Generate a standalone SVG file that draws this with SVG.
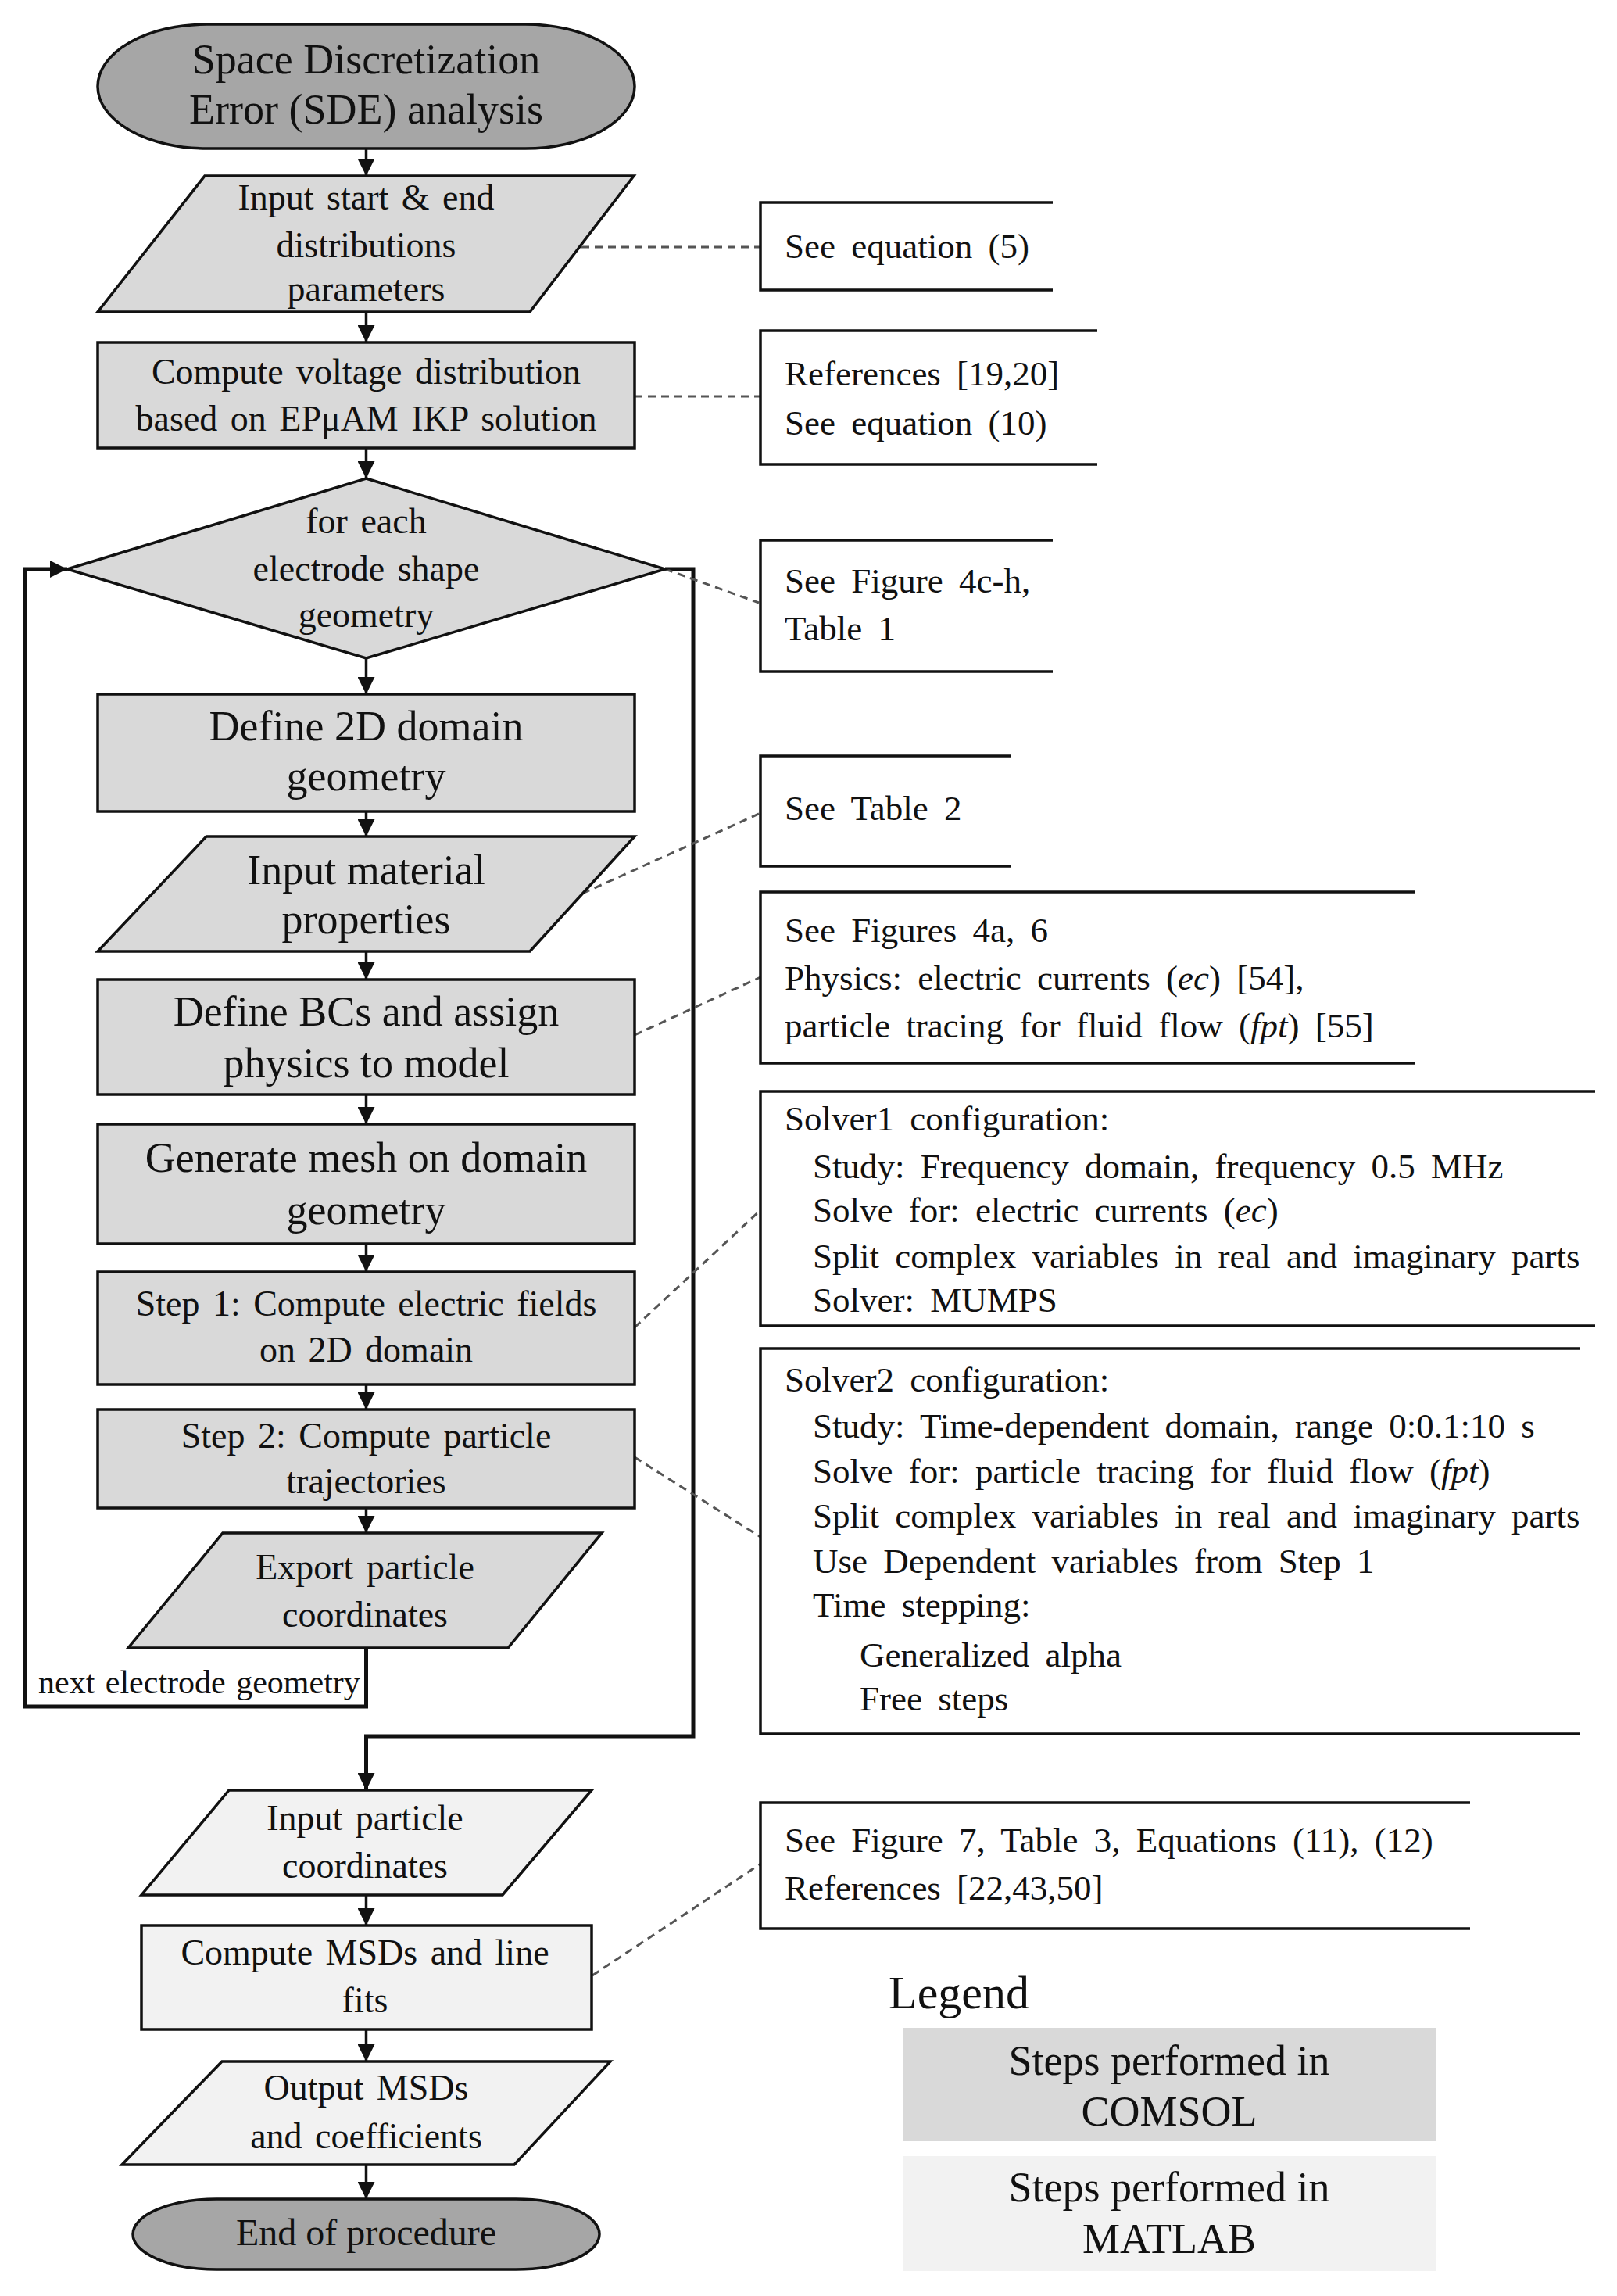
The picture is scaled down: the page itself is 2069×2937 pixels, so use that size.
<svg xmlns="http://www.w3.org/2000/svg" width="2069" height="2937" viewBox="0 0 2069 2937">
<defs>
<style>
text{font-family:"Liberation Serif","Times New Roman",serif;fill:#111}
.c{text-anchor:middle}
.f46{font-size:46px;word-spacing:5px}
.f54{font-size:54px}
.a{font-size:45px;word-spacing:9px}
.n{stroke:#111;stroke-width:3.5}
.dk{fill:#a6a6a6}
.md{fill:#d9d9d9}
.lt{fill:#f2f2f2}
.ar{fill:none;stroke:#111;stroke-width:3.5}
.lp{fill:none;stroke:#111;stroke-width:5}
.ds{fill:none;stroke:#555;stroke-width:3;stroke-dasharray:10 7}
.an{fill:#fff;stroke:#111;stroke-width:3.5}
</style>
<marker id="ah" markerUnits="userSpaceOnUse" markerWidth="22" markerHeight="22" refX="22" refY="11" orient="auto">
<path d="M0,0 L22,11 L0,22 z" fill="#111"/>
</marker>
<clipPath id="clipA7"><rect x="973" y="1725" width="1049" height="493"/></clipPath>
</defs>
<rect width="2069" height="2937" fill="#fff"/>

<g id="connectors">
<path class="ar" marker-end="url(#ah)" d="M468.5,190 V225"/>
<path class="ar" marker-end="url(#ah)" d="M468.5,399 V438"/>
<path class="ar" marker-end="url(#ah)" d="M468.5,573 V612"/>
<path class="ar" marker-end="url(#ah)" d="M468.5,842 V888"/>
<path class="ar" marker-end="url(#ah)" d="M468.5,1038 V1070"/>
<path class="ar" marker-end="url(#ah)" d="M468.5,1217 V1253"/>
<path class="ar" marker-end="url(#ah)" d="M468.5,1400 V1438"/>
<path class="ar" marker-end="url(#ah)" d="M468.5,1591 V1627"/>
<path class="ar" marker-end="url(#ah)" d="M468.5,1771 V1803"/>
<path class="ar" marker-end="url(#ah)" d="M468.5,1929 V1961"/>
<path class="lp" marker-end="url(#ah)" d="M468.5,2108 V2183 H32 V728 H86"/>
<path class="lp" marker-end="url(#ah)" d="M851,728 H887 V2221 H468.5 V2290"/>
<path class="ar" marker-end="url(#ah)" d="M468.5,2424 V2463"/>
<path class="ar" marker-end="url(#ah)" d="M468.5,2596 V2637"/>
<path class="ar" marker-end="url(#ah)" d="M468.5,2769 V2813"/>
<path class="ds" d="M744,316 H973"/>
<path class="ds" d="M812,507 H973"/>
<path class="ds" d="M851,728 L971,771"/>
<path class="ds" d="M745,1143 L973,1040"/>
<path class="ds" d="M812,1324 L973,1250"/>
<path class="ds" d="M812,1698 L973,1548"/>
<path class="ds" d="M812,1864 L973,1966"/>
<path class="ds" d="M758,2527 L975,2383"/>
<text x="49" y="2166" style="font-size:42px;word-spacing:3px">next electrode geometry</text>
</g>

<g id="start">
<rect class="n dk" x="125" y="31" width="687" height="159" rx="140" ry="79.5"/>
<text class="c f54" x="468.5" y="94">Space Discretization</text>
<text class="c f54" x="468.5" y="158">Error (SDE) analysis</text>
</g>

<g id="input-dist">
<polygon class="n md" points="262,225 811,225 678,399 125,399"/>
<text class="c f46" x="468.5" y="268">Input start &amp; end</text>
<text class="c f46" x="468.5" y="329">distributions</text>
<text class="c f46" x="468.5" y="385">parameters</text>
</g>

<g id="compute-voltage">
<rect class="n md" x="125" y="438" width="687" height="135"/>
<text class="c f46" x="468.5" y="491">Compute voltage distribution</text>
<text class="c f46" x="468.5" y="551">based on EPμAM IKP solution</text>
</g>

<g id="for-each">
<polygon class="n md" points="468.5,612 851,728 468.5,842 86,728"/>
<text class="c f46" x="468.5" y="682">for each</text>
<text class="c f46" x="468.5" y="743">electrode shape</text>
<text class="c f46" x="468.5" y="802">geometry</text>
</g>

<g id="define-2d">
<rect class="n md" x="125" y="888" width="687" height="150"/>
<text class="c f54" x="468.5" y="947">Define 2D domain</text>
<text class="c f54" x="468.5" y="1011">geometry</text>
</g>

<g id="input-material">
<polygon class="n md" points="264,1070 812,1070 678,1217 125,1217"/>
<text class="c f54" x="468.5" y="1131">Input material</text>
<text class="c f54" x="468.5" y="1194">properties</text>
</g>

<g id="define-bcs">
<rect class="n md" x="125" y="1253" width="687" height="147"/>
<text class="c f54" x="468.5" y="1312">Define BCs and assign</text>
<text class="c f54" x="468.5" y="1378">physics to model</text>
</g>

<g id="generate-mesh">
<rect class="n md" x="125" y="1438" width="687" height="153"/>
<text class="c f54" x="468.5" y="1499">Generate mesh on domain</text>
<text class="c f54" x="468.5" y="1566">geometry</text>
</g>

<g id="step1">
<rect class="n md" x="125" y="1627" width="687" height="144"/>
<text class="c f46" x="468.5" y="1683">Step 1: Compute electric fields</text>
<text class="c f46" x="468.5" y="1742">on 2D domain</text>
</g>

<g id="step2">
<rect class="n md" x="125" y="1803" width="687" height="126"/>
<text class="c f46" x="468.5" y="1852">Step 2: Compute particle</text>
<text class="c f46" x="468.5" y="1910">trajectories</text>
</g>

<g id="export">
<polygon class="n md" points="285,1961 770,1961 650,2108 164,2108"/>
<text class="c f46" x="467" y="2020">Export particle</text>
<text class="c f46" x="467" y="2081">coordinates</text>
</g>

<g id="input-particle">
<polygon class="n lt" points="293,2290 757,2290 643,2424 181,2424"/>
<text class="c f46" x="467" y="2341">Input particle</text>
<text class="c f46" x="467" y="2402">coordinates</text>
</g>

<g id="compute-msd">
<rect class="n lt" x="181" y="2463" width="576" height="133"/>
<text class="c f46" x="467" y="2513">Compute MSDs and line</text>
<text class="c f46" x="467" y="2574">fits</text>
</g>

<g id="output-msd">
<polygon class="n lt" points="284,2637 781,2637 658,2769 156,2769"/>
<text class="c f46" x="468.5" y="2686">Output MSDs</text>
<text class="c f46" x="468.5" y="2748">and coefficients</text>
</g>

<g id="end">
<rect class="n dk" x="170" y="2813" width="597" height="90" rx="107" ry="45"/>
<text class="c" x="468.5" y="2872" style="font-size:48px">End of procedure</text>
</g>

<g id="note-eq5">
<path class="an" d="M1347,259 H973 V371 H1347"/>
<text class="a" x="1004" y="330">See equation (5)</text>
</g>

<g id="note-refs">
<path class="an" d="M1404,423 H973 V594 H1404"/>
<text class="a" x="1004" y="493">References [19,20]</text>
<text class="a" x="1004" y="556">See equation (10)</text>
</g>

<g id="note-fig4">
<path class="an" d="M1347,691 H973 V859 H1347"/>
<text class="a" x="1004" y="758">See Figure 4c-h,</text>
<text class="a" x="1004" y="819">Table 1</text>
</g>

<g id="note-table2">
<path class="an" d="M1293,967 H973 V1108 H1293"/>
<text class="a" x="1004" y="1049">See Table 2</text>
</g>

<g id="note-physics">
<path class="an" d="M1811,1141 H973 V1360 H1811"/>
<text class="a" x="1004" y="1205">See Figures 4a, 6</text>
<text class="a" x="1004" y="1266">Physics: electric currents (<tspan font-style="italic">ec</tspan>) [54],</text>
<text class="a" x="1004" y="1327">particle tracing for fluid flow (<tspan font-style="italic">fpt</tspan>) [55]</text>
</g>

<g id="note-solver1">
<path class="an" d="M2041,1396 H973 V1696 H2041"/>
<text class="a" x="1004" y="1446">Solver1 configuration:</text>
<text class="a" x="1040" y="1507">Study: Frequency domain, frequency 0.5 MHz</text>
<text class="a" x="1040" y="1563">Solve for: electric currents (<tspan font-style="italic">ec</tspan>)</text>
<text class="a" x="1040" y="1622">Split complex variables in real and imaginary parts</text>
<text class="a" x="1040" y="1678">Solver: MUMPS</text>
</g>

<g id="note-solver2">
<path class="an" d="M2022,1725 H973 V2218 H2022"/>
<g clip-path="url(#clipA7)">
<text class="a" x="1004" y="1780">Solver2 configuration:</text>
<text class="a" x="1040" y="1839">Study: Time-dependent domain, range 0:0.1:10 s</text>
<text class="a" x="1040" y="1897">Solve for: particle tracing for fluid flow (<tspan font-style="italic">fpt</tspan>)</text>
<text class="a" x="1040" y="1954">Split complex variables in real and imaginary parts</text>
<text class="a" x="1040" y="2012">Use Dependent variables from Step 1</text>
<text class="a" x="1040" y="2068">Time stepping:</text>
<text class="a" x="1100" y="2132">Generalized alpha</text>
<text class="a" x="1100" y="2188">Free steps</text>
</g>
</g>

<g id="note-msd">
<path class="an" d="M1881,2306 H973 V2467 H1881"/>
<text class="a" x="1004" y="2369">See Figure 7, Table 3, Equations (11), (12)</text>
<text class="a" x="1004" y="2430">References [22,43,50]</text>
</g>

<g id="legend">
<text x="1137" y="2569" style="font-size:60px">Legend</text>
<rect class="md" x="1155" y="2594" width="683" height="145"/>
<text class="c f54" x="1496" y="2654">Steps performed in</text>
<text class="c f54" x="1496" y="2719">COMSOL</text>
<rect class="lt" x="1155" y="2758" width="683" height="147"/>
<text class="c f54" x="1496" y="2816">Steps performed in</text>
<text class="c f54" x="1496" y="2882">MATLAB</text>
</g>
</svg>
